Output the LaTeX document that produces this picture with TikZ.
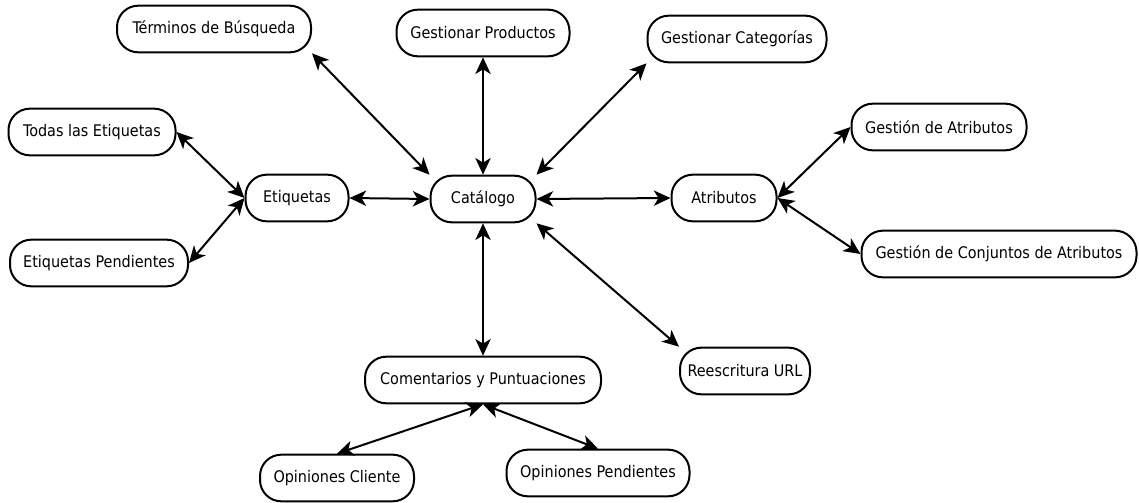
\documentclass[tikz,border=0pt]{standalone}
\usepackage{fontspec}
\setmainfont{DejaVu Sans Condensed}
\usetikzlibrary{arrows.meta}
\begin{document}
\begin{tikzpicture}[x=0.75pt,y=-0.75pt,
  box/.style={draw, line width=1.5pt, rounded corners=16pt, minimum height=35pt, inner sep=0pt, font=\fontsize{12pt}{14pt}\selectfont, fill=white},
  link/.style={line width=1.5pt, {Stealth[length=12.5pt,width=11.5pt,inset=3.5pt]}-{Stealth[length=12.5pt,width=11.5pt,inset=3.5pt]}}]
\useasboundingbox (0,0) rectangle (1139,503);
\node[box, minimum width=145.5pt] (ter) at (214,29) {Términos de Búsqueda};
\node[box, minimum width=129.75pt] (gp) at (483,33) {Gestionar Productos};
\node[box, minimum width=134.25pt] (gc) at (737,39) {Gestionar Categorías};
\node[box, minimum width=125.25pt] (todas) at (92,132) {Todas las Etiquetas};
\node[box, minimum width=77.25pt] (etq) at (297,198) {Etiquetas};
\node[box, minimum width=133.5pt] (etqp) at (99,263) {Etiquetas Pendientes};
\node[box, minimum width=78.75pt] (cat) at (483,199) {Catálogo};
\node[box, minimum width=78.75pt] (atr) at (724,198) {Atributos};
\node[box, minimum width=131.25pt] (gda) at (939,127) {Gestión de Atributos};
\node[box, minimum width=206.25pt] (gdc) at (999,254) {Gestión de Conjuntos de Atributos};
\node[box, minimum width=97.5pt] (url) at (745,371) {Reescritura URL};
\node[box, minimum width=177pt] (com) at (483,380) {Comentarios y Puntuaciones};
\node[box, minimum width=115.5pt] (opc) at (337,478) {Opiniones Cliente};
\node[box, minimum width=137.25pt] (opp) at (598,473) {Opiniones Pendientes};

\draw[link] (ter.south east) -- (cat.north west);
\draw[link] (gp.south) -- (cat.north);
\draw[link] (gc.south west) -- (cat.north east);
\draw[link] (todas.east) -- (etq.west);
\draw[link] (etqp.east) -- (etq.west);
\draw[link] (etq.east) -- (cat.west);
\draw[link] (cat.east) -- (atr.west);
\draw[link] (atr.east) -- (gda.west);
\draw[link] (atr.east) -- (gdc.west);
\draw[link] (cat.south east) -- (url.north west);
\draw[link] (cat.south) -- (com.north);
\draw[link] (com.south) -- (opc.north);
\draw[link] (com.south) -- (opp.north);
\end{tikzpicture}
\end{document}
